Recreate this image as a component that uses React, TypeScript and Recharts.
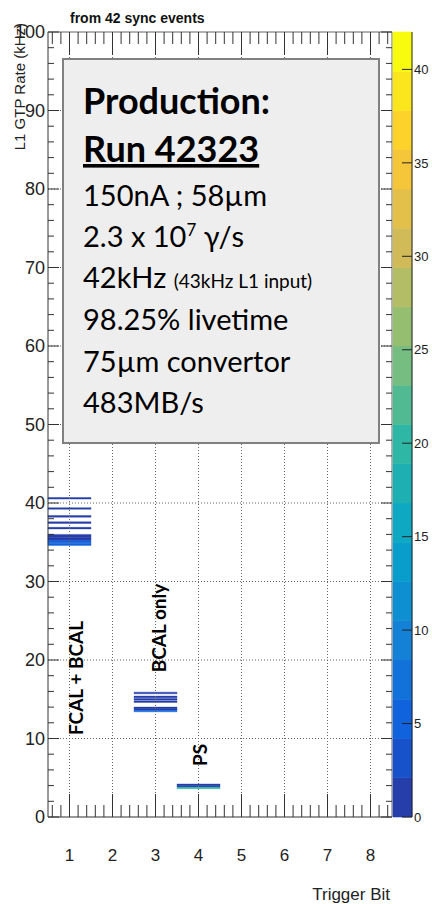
import React from 'react'
import { ComposedChart, XAxis, YAxis, ReferenceArea, ReferenceLine, Scatter } from 'recharts'

// axes
const triggerBits = [1, 2, 3, 4, 5, 6, 7, 8]
const rateTicks = [0, 10, 20, 30, 40, 50, 60, 70, 80, 90, 100]
const colorTicks = [0, 5, 10, 15, 20, 25, 30, 35, 40]

// 2D histogram cells: lower bin edge (kHz) and entries, per trigger bit
const bit1Rates = [40.5, 39.2, 38.2, 37.4, 36.7, 35.8, 35.6, 35.4, 35.2, 35.0, 34.8, 34.6]
const bit1Counts = [1, 1, 1, 1, 1, 2, 2, 2, 2, 5, 5, 5]
const bit3Rates = [15.7, 15.2, 14.9, 14.6, 13.8, 13.6, 13.4]
const bit3Counts = [1, 1, 1, 1, 2, 2, 5]
const bit4Rates = [4.0, 3.8, 3.6]
const bit4Counts = [2, 2, 19]
const binHeight = 0.2
const zMax = 42
const nContours = 20

const cells = [
  ...bit1Rates.map((r, i) => ({ bit: 1, rate: r, count: bit1Counts[i] })),
  ...bit3Rates.map((r, i) => ({ bit: 3, rate: r, count: bit3Counts[i] })),
  ...bit4Rates.map((r, i) => ({ bit: 4, rate: r, count: bit4Counts[i] })),
]

// ROOT kBird palette
const birdStops = [
  [53, 42, 135], [15, 92, 221], [20, 129, 214], [6, 164, 202], [46, 183, 164],
  [135, 191, 119], [209, 187, 89], [254, 200, 50], [249, 251, 14],
]
function bird(t: number) {
  const p = Math.min(1, Math.max(0, t)) * 8
  const i = Math.min(7, Math.floor(p))
  const f = p - i
  const c = birdStops[i].map((v, k) => Math.round(v + (birdStops[i + 1][k] - v) * f))
  return `rgb(${c[0]},${c[1]},${c[2]})`
}
const bandColors = Array.from({ length: nContours }, (_, i) => bird((i + 0.99) / nContours))
const bandStep = zMax / nContours
const colorFor = (c: number) => bandColors[Math.min(nContours - 1, Math.floor(c / bandStep))]
const bands = bandColors.map((col, i) => ({ x: 0.5, lo: i * bandStep, hi: (i + 1) * bandStep, col }))

const xTicks = Array.from({ length: 40 }, (_, i) => Math.round((0.6 + i * 0.2) * 10) / 10)
const yTicks = Array.from({ length: 51 }, (_, i) => i * 2)

const AXIS_FONT = '"Liberation Sans", Arial, sans-serif'
const BOX_FONT = 'Lato, "Open Sans", sans-serif'
const ink = '#333'

const isMajorX = (v: number) => triggerBits.includes(v)
const isMajorY = (v: number) => v % 10 === 0

const BottomTick = ({ x, y, payload }: any) => {
  const major = isMajorX(payload.value)
  return (
    <g>
      <line x1={x} y1={y} x2={x} y2={y - (major ? 23 : 12)} stroke={ink} />
      {major && (
        <text x={x} y={y + 44} textAnchor="middle" fontSize={17} fill="#222" fontFamily={AXIS_FONT}>
          {payload.value}
        </text>
      )}
    </g>
  )
}
const TopTick = ({ x, y, payload }: any) => {
  const major = isMajorX(payload.value)
  return <line x1={x} y1={y} x2={x} y2={y + (major ? 23 : 12)} stroke={ink} />
}
const LeftTick = ({ x, y, payload }: any) => {
  const major = isMajorY(payload.value)
  return (
    <g>
      <line x1={x} y1={y} x2={x + (major ? 11 : 6)} y2={y} stroke={ink} />
      {major && (
        <text x={x - 3} y={y} dy="0.36em" textAnchor="end" fontSize={18} fill="#222" fontFamily={AXIS_FONT}>
          {payload.value}
        </text>
      )}
    </g>
  )
}
const RightTick = ({ x, y, payload }: any) => {
  const major = isMajorY(payload.value)
  return <line x1={x} y1={y} x2={x - (major ? 11 : 6)} y2={y} stroke={ink} />
}
const ZTick = ({ x, y, payload }: any) => (
  <g>
    <line x1={x} y1={y} x2={x - 10} y2={y} stroke="#222" />
    <text x={x + 2} y={y} dy="0.36em" fontSize={13} fill="#222" fontFamily={AXIS_FONT}>
      {payload.value}
    </text>
  </g>
)

function Histogram() {
  return (
    <ComposedChart width={432} height={904} margin={{ top: 0, right: 0, bottom: 0, left: 0 }}>
      <XAxis type="number" dataKey="bit" domain={[0.5, 8.5]} ticks={xTicks} interval={0} height={87}
        tickSize={0} tickMargin={0} tickLine={false} tick={<BottomTick />} axisLine={{ stroke: ink }} />
      <XAxis xAxisId="t" orientation="top" type="number" dataKey="bit" domain={[0.5, 8.5]} ticks={xTicks} interval={0} height={32}
        tickSize={0} tickMargin={0} tickLine={false} tick={<TopTick />} axisLine={{ stroke: '#666' }} />
      <YAxis type="number" dataKey="rate" domain={[0, 100]} ticks={yTicks} interval={0} width={48}
        tickSize={0} tickMargin={0} tickLine={false} tick={<LeftTick />} axisLine={{ stroke: ink }} />
      <YAxis yAxisId="r" orientation="right" type="number" dataKey="rate" domain={[0, 100]} ticks={yTicks} interval={0} width={40}
        tickSize={0} tickMargin={0} tickLine={false} tick={<RightTick />} axisLine={{ stroke: '#666' }} />
      {triggerBits.map(b => (
        <ReferenceLine key={'gx' + b} x={b} stroke="#666" strokeDasharray="1 2" />
      ))}
      {rateTicks.slice(1, -1).map(r => (
        <ReferenceLine key={'gy' + r} y={r} stroke="#666" strokeDasharray="1 2" />
      ))}
      {cells.map((c, i) => (
        <ReferenceArea key={i} x1={c.bit - 0.5} x2={c.bit + 0.5} y1={c.rate} y2={c.rate + binHeight}
          fill={colorFor(c.count)} fillOpacity={1} stroke={colorFor(c.count)} strokeWidth={0.4} />
      ))}
      <Scatter data={cells} dataKey="rate" isAnimationActive={false} shape={() => <g />} />
      <Scatter data={cells} dataKey="rate" xAxisId="t" yAxisId="r" isAnimationActive={false} shape={() => <g />} />
    </ComposedChart>
  )
}

function ColorBar() {
  return (
    <ComposedChart width={432} height={904} margin={{ top: 32, right: 0, bottom: 87, left: 393 }}>
      <XAxis type="number" dataKey="x" domain={[0, 1]} hide />
      <YAxis orientation="right" type="number" dataKey="lo" domain={[0, zMax]} ticks={colorTicks} interval={0} width={20}
        tickSize={0} tickMargin={0} tickLine={false} tick={<ZTick />} axisLine={{ stroke: '#222' }} />
      {bands.map((b, i) => (
        <ReferenceArea key={i} x1={0} x2={1} y1={b.lo} y2={b.hi} fill={b.col} fillOpacity={1}
          stroke={b.col} strokeWidth={0.6} />
      ))}
      <Scatter data={bands} dataKey="lo" isAnimationActive={false} shape={() => <g />} />
    </ComposedChart>
  )
}

export default function App() {
  return (
    <div style={{ position: 'absolute', left: 0, top: 0, width: 432, height: 904, background: '#fff' }}>
      <div style={{ position: 'absolute', left: 0, top: 0 }}><Histogram /></div>
      <div style={{ position: 'absolute', left: 0, top: 0 }}><ColorBar /></div>
      <svg width={432} height={904} style={{ position: 'absolute', left: 0, top: 0, pointerEvents: 'none' }}>
        <text x={70} y={23} fontSize={14} fontWeight="bold" fill="#111" fontFamily={AXIS_FONT}>from 42 sync events</text>
        <text transform="translate(25,23) rotate(-90)" textAnchor="end" fontSize={15} fill="#222" fontFamily={AXIS_FONT}>
          L1 GTP Rate (kHz)
        </text>
        <text x={390} y={900} textAnchor="end" fontSize={17} fill="#222" fontFamily={AXIS_FONT}>Trigger Bit</text>

        <rect x={63} y={59} width={316} height={384} fill="#eeeeee" stroke="#808080" strokeWidth={2} />
        <g fontFamily={BOX_FONT} fill="#000">
          <text x={83} y={114} fontSize={36} fontWeight="bold">Production:</text>
          <text x={83} y={162} fontSize={36} fontWeight="bold" style={{ textDecoration: 'underline' }}>Run 42323</text>
          <text x={83} y={206} fontSize={29}>150nA ; 58µm</text>
          <text x={83} y={247} fontSize={29}>
            2.3 x 10<tspan dy={-11} fontSize={17}>7</tspan><tspan dy={11}> γ/s</tspan>
          </text>
          <text x={83} y={288} fontSize={29}>
            42kHz <tspan fontSize={19}>(43kHz L1 input)</tspan>
          </text>
          <text x={83} y={330} fontSize={29}>98.25% livetime</text>
          <text x={83} y={372} fontSize={29}>75µm convertor</text>
          <text x={83} y={413} fontSize={29}>483MB/s</text>
        </g>

        <g fontFamily={BOX_FONT} fontWeight="bold" fontSize={19} fill="#000" textAnchor="middle">
          <text transform="translate(83,678) rotate(-90)">FCAL + BCAL</text>
          <text transform="translate(166,628) rotate(-90)">BCAL only</text>
          <text transform="translate(207,755) rotate(-90)">PS</text>
        </g>
      </svg>
    </div>
  )
}
